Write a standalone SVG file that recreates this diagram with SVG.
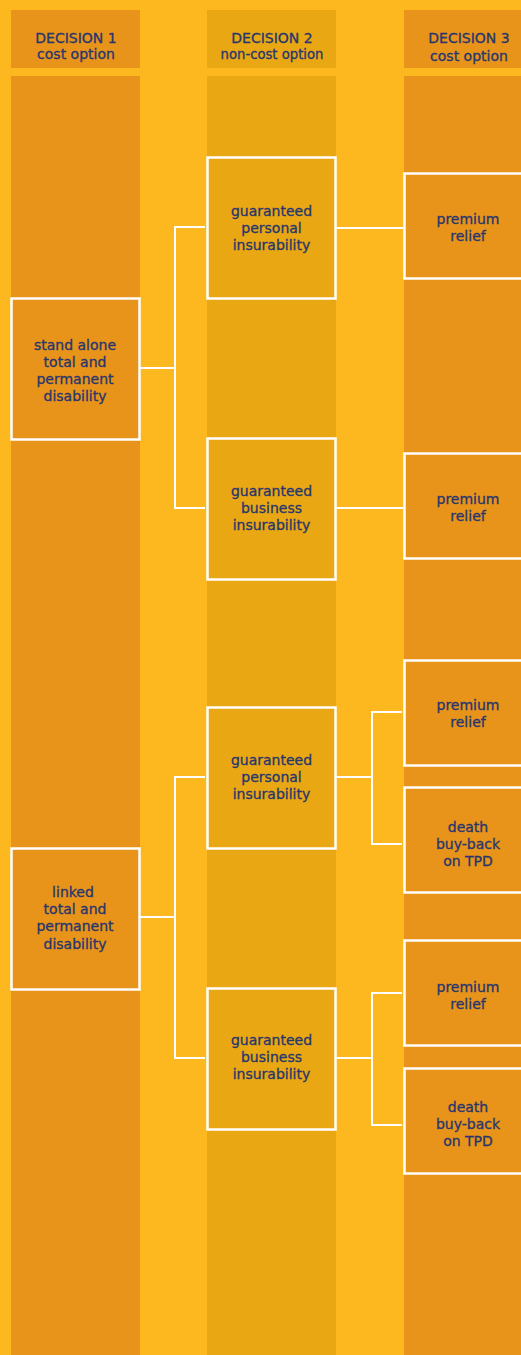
<svg xmlns="http://www.w3.org/2000/svg" width="521" height="1355" viewBox="0 0 521 1355">
<style>
.bg{fill:#FDB81F}
.c1{fill:#E8931A}
.c2{fill:#E8A713}
.box1{fill:#E8931A;stroke:#FFFFFF;stroke-width:2.5}
.box2{fill:#E8A713;stroke:#FFFFFF;stroke-width:2.5}
.ln{fill:none;stroke:#FFFFFF;stroke-width:2}
text{font-family:"DejaVu Sans","Noto Sans",sans-serif;font-size:14px;fill:#27366E;stroke:#27366E;stroke-width:0.3;text-anchor:middle}
.nc{font-size:13.2px}
</style>
<rect class="bg" x="0" y="0" width="521" height="1355"/>
<g id="columns">
<rect class="c1" x="11" y="10" width="129" height="58"/>
<rect class="c2" x="207" y="10" width="129" height="58"/>
<rect class="c1" x="404" y="10" width="117" height="58"/>
<rect class="c1" x="11" y="76" width="129" height="1279"/>
<rect class="c2" x="207" y="76" width="129" height="1279"/>
<rect class="c1" x="404" y="76" width="117" height="1279"/>
</g>
<g id="headers">
<text x="76" y="42.7">DECISION 1</text>
<text x="76" y="59.3">cost option</text>
<text x="272" y="42.7">DECISION 2</text>
<text x="272" y="59.3" class="nc">non-cost option</text>
<text x="469" y="42.7">DECISION 3</text>
<text x="469" y="61">cost option</text>
</g>
<g id="connectors">
<polyline class="ln" points="140,368 175,368"/>
<polyline class="ln" points="205,227 175,227 175,508 205,508"/>
<polyline class="ln" points="336,228 403,228"/>
<polyline class="ln" points="336,508 403,508"/>
<polyline class="ln" points="140,917 175,917"/>
<polyline class="ln" points="205,777 175,777 175,1058 205,1058"/>
<polyline class="ln" points="336,777 372,777"/>
<polyline class="ln" points="402,712 372,712 372,844 402,844"/>
<polyline class="ln" points="336,1058 372,1058"/>
<polyline class="ln" points="402,993 372,993 372,1125 402,1125"/>
</g>
<g id="d1-standalone">
<rect class="box1" x="11.5" y="298.5" width="128" height="141"/>
<text x="75" y="349.5">stand alone</text>
<text x="75" y="366.8">total and</text>
<text x="75" y="384.1">permanent</text>
<text x="75" y="401.4">disability</text>
</g>
<g id="d1-linked">
<rect class="box1" x="11.5" y="848.5" width="128" height="141"/>
<text x="73" y="896.8">linked</text>
<text x="75" y="914.1">total and</text>
<text x="75" y="931.4">permanent</text>
<text x="75" y="948.7">disability</text>
</g>
<g id="d2-personal-1">
<rect class="box2" x="207.5" y="157.5" width="128" height="141"/>
<text x="271.5" y="215.5">guaranteed</text>
<text x="271.5" y="232.8">personal</text>
<text x="271.5" y="250.1">insurability</text>
</g>
<g id="d2-business-1">
<rect class="box2" x="207.5" y="438.5" width="128" height="141"/>
<text x="271.5" y="495.7">guaranteed</text>
<text x="271.5" y="513">business</text>
<text x="271.5" y="530.3">insurability</text>
</g>
<g id="d2-personal-2">
<rect class="box2" x="207.5" y="707.5" width="128" height="141"/>
<text x="271.5" y="764.7">guaranteed</text>
<text x="271.5" y="782">personal</text>
<text x="271.5" y="799.3">insurability</text>
</g>
<g id="d2-business-2">
<rect class="box2" x="207.5" y="988.5" width="128" height="141"/>
<text x="271.5" y="1044.8">guaranteed</text>
<text x="271.5" y="1062.1">business</text>
<text x="271.5" y="1079.4">insurability</text>
</g>
<g id="d3-relief-1">
<rect class="box1" x="404.5" y="173.5" width="120" height="105"/>
<text x="468" y="224">premium</text>
<text x="468" y="241">relief</text>
</g>
<g id="d3-relief-2">
<rect class="box1" x="404.5" y="453.5" width="120" height="105"/>
<text x="468" y="504">premium</text>
<text x="468" y="521">relief</text>
</g>
<g id="d3-relief-3">
<rect class="box1" x="404.5" y="660.5" width="120" height="105"/>
<text x="468" y="710">premium</text>
<text x="468" y="727">relief</text>
</g>
<g id="d3-death-1">
<rect class="box1" x="404.5" y="787.5" width="120" height="105"/>
<text x="468" y="831.7">death</text>
<text x="468" y="849">buy-back</text>
<text x="468" y="866">on TPD</text>
</g>
<g id="d3-relief-4">
<rect class="box1" x="404.5" y="940.5" width="120" height="105"/>
<text x="468" y="992">premium</text>
<text x="468" y="1009">relief</text>
</g>
<g id="d3-death-2">
<rect class="box1" x="404.5" y="1068.5" width="120" height="105"/>
<text x="468" y="1111.7">death</text>
<text x="468" y="1129">buy-back</text>
<text x="468" y="1146">on TPD</text>
</g>
</svg>
